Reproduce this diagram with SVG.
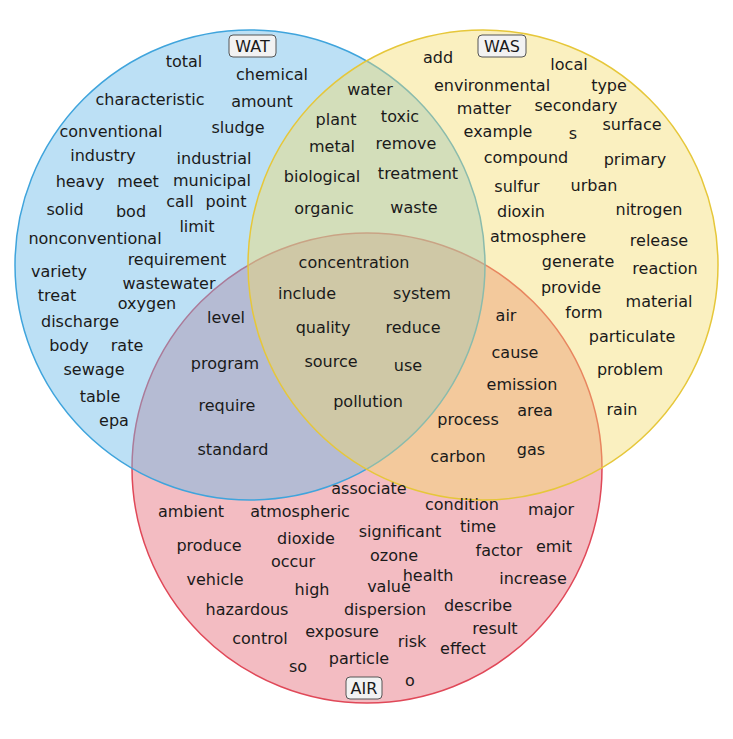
<svg xmlns="http://www.w3.org/2000/svg" width="733" height="739" viewBox="0 0 733 739">
<style>
text{font-family:"DejaVu Sans",Verdana,sans-serif;font-size:16px;fill:#1a1a1a;text-anchor:middle;dominant-baseline:central}
.c{stroke-width:1.5}
.lb{fill:#f2f2f2;stroke:#555;stroke-width:1}
</style>
<rect width="733" height="739" fill="#fff"/>
<g id="sets">
<circle id="AIR-circle" class="c" cx="367" cy="468" r="235" fill="#e56b78" fill-opacity="0.45" stroke="#e04858"/>
<circle id="WAT-circle" class="c" cx="250" cy="265" r="235" fill="#6bbbe8" fill-opacity="0.45" stroke="#3fa4dc"/>
<circle id="WAS-circle" class="c" cx="483" cy="265" r="235" fill="#f3dc6a" fill-opacity="0.42" stroke="#e6c73a"/>
</g>
<g id="labels">
<g id="WAT"><rect class="lb" x="229" y="35" width="47" height="22" rx="4"/><text x="252.5" y="46">WAT</text></g>
<g id="WAS"><rect class="lb" x="478" y="35" width="48" height="22" rx="4"/><text x="502" y="46">WAS</text></g>
<g id="AIR"><rect class="lb" x="346" y="677" width="36" height="22" rx="4"/><text x="364" y="688">AIR</text></g>
</g>
<g id="words">
<text x="184" y="61">total</text><text x="272" y="74">chemical</text>
<text x="150" y="99">characteristic</text><text x="262" y="101">amount</text>
<text x="111" y="131">conventional</text><text x="238" y="127">sludge</text>
<text x="103" y="155">industry</text><text x="214" y="158">industrial</text>
<text x="80" y="181">heavy</text><text x="138" y="181">meet</text><text x="212" y="180">municipal</text>
<text x="65" y="209">solid</text><text x="131" y="211">bod</text><text x="180" y="201">call</text><text x="226" y="201">point</text>
<text x="197" y="226">limit</text><text x="95" y="238">nonconventional</text>
<text x="177" y="259">requirement</text><text x="59" y="271">variety</text><text x="169" y="283">wastewater</text>
<text x="57" y="295">treat</text><text x="147" y="303">oxygen</text><text x="80" y="321">discharge</text>
<text x="69" y="345">body</text><text x="127" y="345">rate</text><text x="94" y="369">sewage</text>
<text x="100" y="396">table</text><text x="114" y="420">epa</text>
<text x="370" y="89">water</text><text x="336" y="119">plant</text><text x="400" y="116">toxic</text>
<text x="332" y="146">metal</text><text x="406" y="143">remove</text>
<text x="322" y="176">biological</text><text x="418" y="173">treatment</text>
<text x="324" y="208">organic</text><text x="414" y="207">waste</text>
<text x="438" y="57">add</text><text x="569" y="64">local</text>
<text x="492" y="85">environmental</text><text x="609" y="85">type</text>
<text x="484" y="108">matter</text><text x="576" y="105">secondary</text>
<text x="498" y="131">example</text><text x="573" y="133">s</text><text x="632" y="124">surface</text>
<text x="526" y="157">compound</text><text x="635" y="159">primary</text>
<text x="517" y="186">sulfur</text><text x="594" y="185">urban</text>
<text x="521" y="211">dioxin</text><text x="649" y="209">nitrogen</text>
<text x="538" y="236">atmosphere</text><text x="659" y="240">release</text>
<text x="578" y="261">generate</text><text x="665" y="268">reaction</text>
<text x="571" y="287">provide</text><text x="584" y="312">form</text><text x="659" y="301">material</text>
<text x="632" y="336">particulate</text><text x="630" y="369">problem</text><text x="622" y="409">rain</text>
<text x="354" y="262">concentration</text>
<text x="307" y="293">include</text><text x="422" y="293">system</text>
<text x="323" y="327">quality</text><text x="413" y="327">reduce</text>
<text x="331" y="361">source</text><text x="408" y="365">use</text>
<text x="368" y="401">pollution</text>
<text x="226" y="317">level</text><text x="225" y="363">program</text>
<text x="227" y="405">require</text><text x="233" y="449">standard</text>
<text x="506" y="315">air</text><text x="515" y="352">cause</text>
<text x="522" y="384">emission</text><text x="468" y="419">process</text><text x="535" y="410">area</text>
<text x="458" y="456">carbon</text><text x="531" y="449">gas</text>
<text x="369" y="488">associate</text><text x="462" y="504">condition</text>
<text x="191" y="511">ambient</text><text x="300" y="511">atmospheric</text><text x="551" y="509">major</text>
<text x="400" y="531">significant</text><text x="478" y="526">time</text>
<text x="209" y="545">produce</text><text x="306" y="538">dioxide</text><text x="554" y="546">emit</text>
<text x="293" y="561">occur</text><text x="394" y="555">ozone</text><text x="499" y="550">factor</text>
<text x="215" y="579">vehicle</text><text x="428" y="575">health</text><text x="533" y="578">increase</text>
<text x="312" y="589">high</text><text x="389" y="586">value</text>
<text x="247" y="609">hazardous</text><text x="385" y="609">dispersion</text><text x="478" y="605">describe</text>
<text x="342" y="631">exposure</text><text x="495" y="628">result</text>
<text x="260" y="638">control</text><text x="412" y="641">risk</text><text x="463" y="648">effect</text>
<text x="298" y="666">so</text><text x="359" y="658">particle</text><text x="410" y="680">o</text>
</g>
</svg>
